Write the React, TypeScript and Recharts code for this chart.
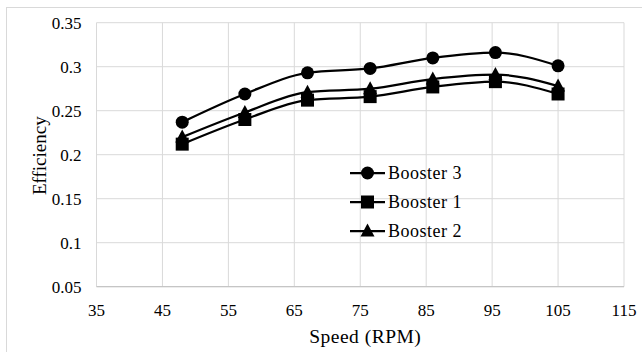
import React from 'react';
import { LineChart, Line, XAxis, YAxis, CartesianGrid, Legend } from 'recharts';

const speeds = [48, 57.5, 67, 76.5, 86, 95.5, 105];
const booster3 = [0.237, 0.269, 0.293, 0.298, 0.31, 0.316, 0.301];
const booster1 = [0.212, 0.24, 0.262, 0.266, 0.277, 0.283, 0.269];
const booster2 = [0.22, 0.248, 0.271, 0.275, 0.286, 0.291, 0.278];
const xTicks = [35, 45, 55, 65, 75, 85, 95, 105, 115];
const yTicks = [0.05, 0.1, 0.15, 0.2, 0.25, 0.3, 0.35];

const data = speeds.map((s, i) => ({ speed: s, b3: booster3[i], b1: booster1[i], b2: booster2[i] }));

const FONT = "'Liberation Serif', 'Times New Roman', Times, serif";

const CircleDot = (p: any) => (p.cx == null ? null : <circle cx={p.cx} cy={p.cy} r={6.5} fill="#000" />);
const SquareDot = (p: any) => (p.cx == null ? null : <rect x={p.cx - 6.5} y={p.cy - 6.5} width={13} height={13} fill="#000" />);
const TriDot = (p: any) =>
  p.cx == null ? null : (
    <polygon points={`${p.cx},${p.cy - 7.5} ${p.cx + 7},${p.cy + 5.5} ${p.cx - 7},${p.cy + 5.5}`} fill="#000" />
  );

const legendItems = [
  { name: 'Booster 3', kind: 'circle' },
  { name: 'Booster 1', kind: 'square' },
  { name: 'Booster 2', kind: 'tri' },
];

const LegendContent = () => (
  <div style={{ fontFamily: FONT, fontSize: 18, letterSpacing: 0.5, color: '#000', lineHeight: '29.2px' }}>
    {legendItems.map((it) => (
      <div key={it.name} style={{ display: 'flex', alignItems: 'center', height: 29.2 }}>
        <svg width={37} height={16} style={{ marginRight: 1 }}>
          <line x1={0} y1={8} x2={35} y2={8} stroke="#000" strokeWidth={2.25} />
          {it.kind === 'circle' && <circle cx={17.5} cy={8} r={6.5} fill="#000" />}
          {it.kind === 'square' && <rect x={11} y={1.5} width={13} height={13} fill="#000" />}
          {it.kind === 'tri' && <polygon points="17.5,0.5 24.5,13.5 10.5,13.5" fill="#000" />}
        </svg>
        <span>{it.name}</span>
      </div>
    ))}
  </div>
);

const YTitle = (props: any) => {
  const vb = props.viewBox;
  const cx = vb.x + 3.5;
  const cy = vb.y + vb.height / 2 + 1;
  return (
    <text
      x={cx}
      y={cy}
      transform={`rotate(-90, ${cx}, ${cy})`}
      textAnchor="middle"
      dominantBaseline="central"
      style={{ fontFamily: FONT }}
      fontSize={19}
      fill="#000"
    >
      Efficiency
    </text>
  );
};

const XTitle = (props: any) => {
  const vb = props.viewBox;
  const cx = vb.x + vb.width / 2 + 5;
  const cy = vb.y + 56;
  return (
    <text x={cx} y={cy} textAnchor="middle" style={{ fontFamily: FONT, letterSpacing: 0.5 }} fontSize={19.5} fill="#000">
      Speed (RPM)
    </text>
  );
};

const XTick = (props: any) => (
  <text x={props.x} y={props.y} dy="0.71em" textAnchor="middle" style={{ fontFamily: FONT }} fontSize={17} fill="#000">
    {props.payload.value}
  </text>
);

const YTick = (props: any) => (
  <text x={props.x} y={props.y} dy="0.355em" textAnchor="end" style={{ fontFamily: FONT }} fontSize={17} fill="#000">
    {props.payload.value}
  </text>
);

export default function App() {
  return (
    <div style={{ position: 'absolute', left: 0, top: 0, width: 642, height: 352, background: '#fff', overflow: 'hidden', fontFamily: FONT }}>
      <div
        style={{
          position: 'absolute',
          left: 6,
          top: 7,
          width: 640,
          height: 360,
          border: '1px solid #d9d9d9',
          boxSizing: 'border-box',
        }}
      />
      <div style={{ position: 'absolute', left: 0, top: 0 }}>
        <LineChart width={642} height={352} data={data} margin={{ top: 22.7, right: 18, left: 36.5, bottom: 5.3 }} style={{ fontFamily: FONT }}>
          <CartesianGrid stroke="#d9d9d9" strokeWidth={1} />
          <XAxis
            dataKey="speed"
            type="number"
            domain={[35, 115]}
            ticks={xTicks}
            interval={0}
            height={60}
            tickLine={false}
            tickMargin={11}
            axisLine={{ stroke: '#bfbfbf' }}
            tick={<XTick />}
            label={<XTitle />}
          />
          <YAxis
            type="number"
            domain={[0.05, 0.35]}
            ticks={yTicks}
            interval={0}
            width={60}
            tickLine={false}
            tickMargin={9}
            axisLine={false}
            tick={<YTick />}
            label={<YTitle />}
          />
          <Legend
            content={<LegendContent />}
            verticalAlign="top"
            wrapperStyle={{ position: 'absolute', left: 350, top: 158.5, width: 130, height: 0, overflow: 'visible' }}
          />
          <Line type="monotone" dataKey="b3" name="Booster 3" stroke="#000" strokeWidth={2.25} dot={<CircleDot />} isAnimationActive={false} />
          <Line type="monotone" dataKey="b2" name="Booster 2" stroke="#000" strokeWidth={2.25} dot={<TriDot />} isAnimationActive={false} />
          <Line type="monotone" dataKey="b1" name="Booster 1" stroke="#000" strokeWidth={2.25} dot={<SquareDot />} isAnimationActive={false} />
        </LineChart>
      </div>
    </div>
  );
}
